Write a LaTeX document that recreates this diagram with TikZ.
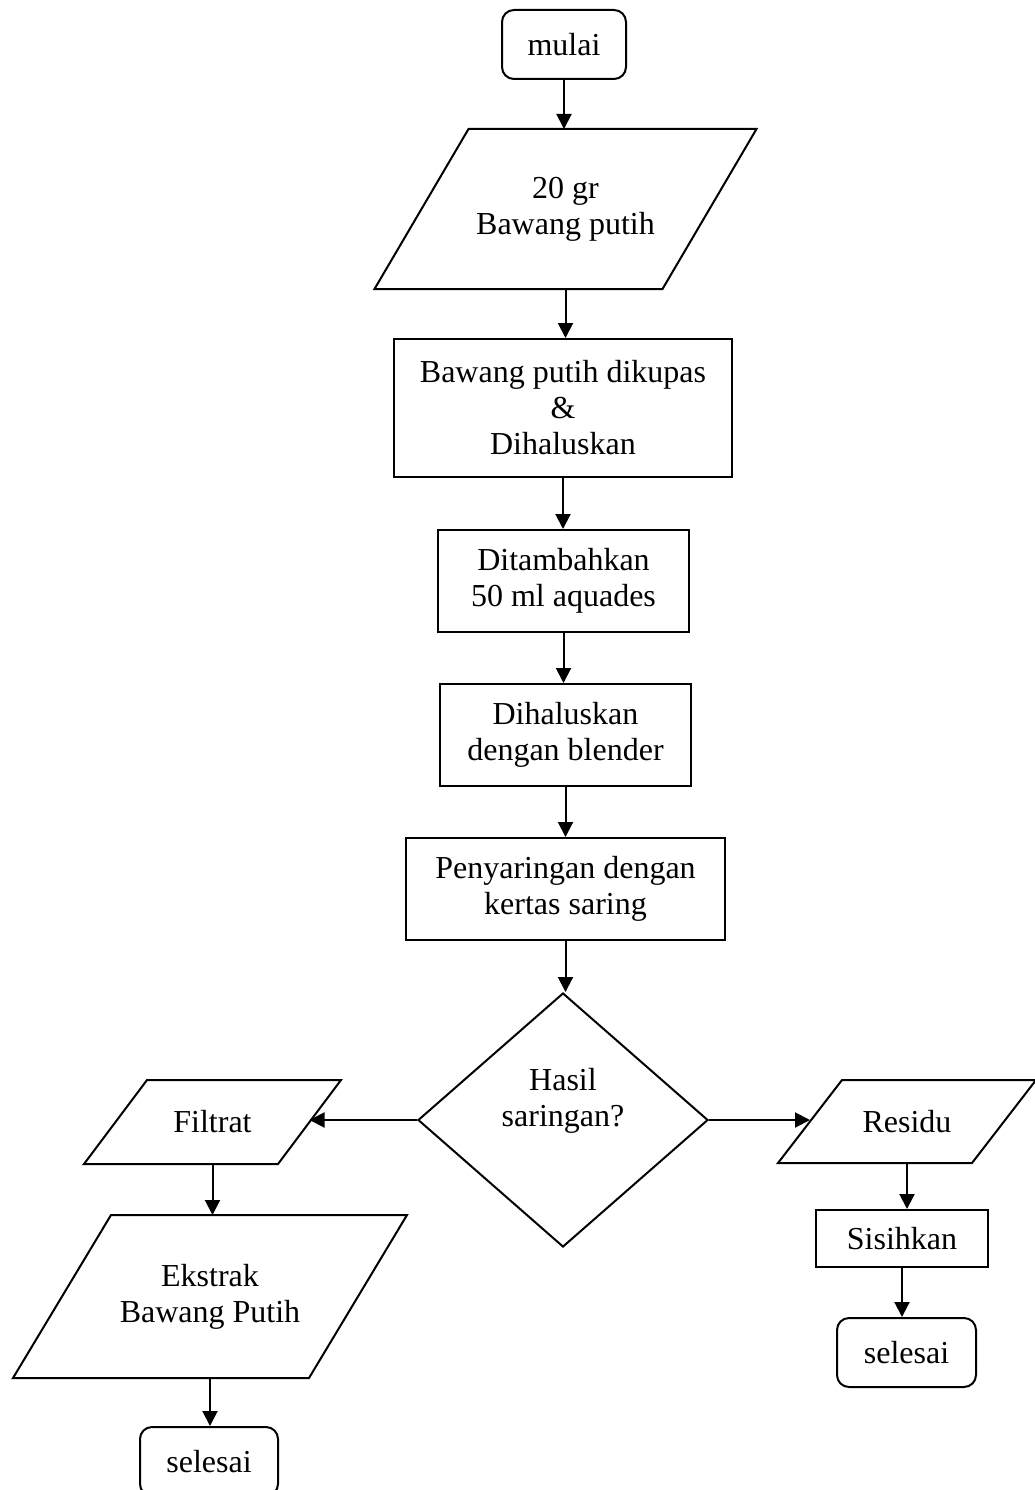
\documentclass[tikz,border=0pt]{standalone}
\usepackage{fontspec}
\setmainfont{Liberation Serif}
\usetikzlibrary{shapes.geometric,arrows.meta}

% outline of a slanted input/output box around node #1, corners shifted by #2
\newcommand{\slantbox}[2]{%
  \draw[outline] ([xshift=#2]#1.north west) -- ([xshift=#2]#1.north east)
    -- ([xshift=-#2]#1.south east) -- ([xshift=-#2]#1.south west) -- cycle;}

\begin{document}
\begin{tikzpicture}[x=1pt,y=-1pt,
  every node/.style={font=\fontsize{32}{36}\selectfont, align=center, inner sep=0pt, line width=2pt},
  outline/.style={line width=2pt, line join=miter},
  termbox/.style={draw, rounded corners=12pt, minimum width=#1, minimum height=69pt},
  procbox/.style={draw, rectangle},
  iobox/.style={rectangle},
  decbox/.style={draw, diamond, minimum width=290pt, minimum height=254pt},
  flow/.style={line width=2pt, -{Triangle[width=15pt,length=15pt]}}
]
\path[use as bounding box] (0,0) rectangle (1034,1490);

% main column
\node[termbox=124pt] (start) at (564,44.5) {mulai};
\node[iobox, minimum width=286pt, minimum height=158pt] (input) at (565.5,209) {20 gr\\Bawang putih};
\slantbox{input}{47pt}
\node[procbox, minimum width=338pt, minimum height=138pt] (peel) at (563,408) {Bawang putih dikupas\\\&\\Dihaluskan};
\node[procbox, minimum width=251pt, minimum height=102pt] (water) at (563.5,581) {Ditambahkan\\50 ml aquades};
\node[procbox, minimum width=251pt, minimum height=102pt] (blend) at (565.5,735) {Dihaluskan\\dengan blender};
\node[procbox, minimum width=319pt, minimum height=102pt] (filter) at (565.5,889) {Penyaringan dengan\\kertas saring};
\node[decbox] (result) at (563,1120) {};
\node (resulttxt) at (563,1101) {Hasil\\saringan?};

% left branch
\node[iobox, minimum width=192pt, minimum height=82pt] (filtrat) at (212.5,1122) {Filtrat};
\slantbox{filtrat}{31.5pt}
\node[iobox, minimum width=294pt, minimum height=161pt] (extract) at (210,1296.5) {Ekstrak\\Bawang Putih};
\slantbox{extract}{49pt}
\node[termbox=138pt] (endL) at (209,1461.5) {selesai};

% right branch
\node[iobox, minimum width=192pt, minimum height=81pt] (residu) at (907,1121.5) {Residu};
\slantbox{residu}{32pt}
\node[procbox, minimum width=172pt, minimum height=57pt] (aside) at (902,1238.5) {Sisihkan};
\node[termbox=139pt] (endR) at (906.5,1352.5) {selesai};

% connectors
\draw[flow] (start.south) -- (start.south |- input.north);
\draw[flow] (input.south) -- (input.south |- peel.north);
\draw[flow] (peel.south) -- (peel.south |- water.north);
\draw[flow] (water.south) -- (water.south |- blend.north);
\draw[flow] (blend.south) -- (blend.south |- filter.north);
\draw[flow] (filter.south) -- (filter.south |- result.north);
\draw[flow] (result.west) -- (filtrat.east |- result.west);
\draw[flow] (result.east) -- (residu.west |- result.east);
\draw[flow] (filtrat.south) -- (filtrat.south |- extract.north);
\draw[flow] (extract.south) -- (extract.south |- endL.north);
\draw[flow] (residu.south) -- (residu.south |- aside.north);
\draw[flow] (aside.south) -- (aside.south |- endR.north);
\end{tikzpicture}
\end{document}
